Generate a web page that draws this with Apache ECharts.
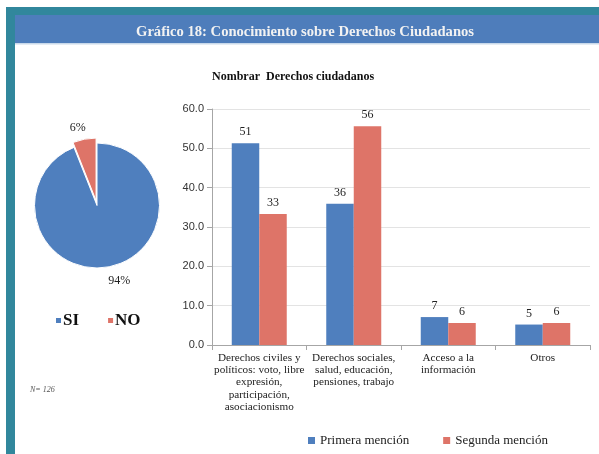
<!DOCTYPE html>
<html><head><meta charset="utf-8">
<script src="https://cdn.jsdelivr.net/npm/echarts@6/dist/echarts.min.js"></script>
<style>html,body{margin:0;padding:0;background:#fff}#c{width:599px;height:454px}</style>
</head><body><div id="c"></div>
<script>
const categories = [
  'Derechos civiles y\npolíticos: voto, libre\nexpresión,\nparticipación,\nasociacionismo',
  'Derechos sociales,\nsalud, educación,\npensiones, trabajo',
  'Acceso a la\ninformación',
  'Otros'
];
const primera = [51.3, 35.9, 7.1, 5.2];
const segunda = [33.3, 55.6, 5.6, 5.6];
const yTicks = [0, 10, 20, 30, 40, 50, 60];
const pieNames = ['SI', 'NO'];
const pieValues = [94, 6];

const BLUE = '#4F7FBE', RED = '#DE7468', TEAL = '#31879C';
const serif = '"Liberation Serif", "DejaVu Serif", serif';
const sans = '"Liberation Sans", Arial, sans-serif';

const chart = echarts.init(document.getElementById('c'), null, {renderer: 'canvas'});
chart.setOption({
  animation: false,
  backgroundColor: '#fff',
  graphic: [
    {type: 'rect', shape: {x: 6, y: 7, width: 593, height: 8}, style: {fill: TEAL}, silent: true},
    {type: 'rect', shape: {x: 6, y: 7, width: 9, height: 447}, style: {fill: TEAL}, silent: true},
    {type: 'rect', shape: {x: 15, y: 15, width: 584, height: 28}, style: {fill: '#4E7DBB'}, silent: true},
    {type: 'rect', shape: {x: 15, y: 43, width: 584, height: 1.5}, style: {fill: '#C9D9EA'}, silent: true},
    {type: 'text', left: 30, top: 386, style: {text: 'N= 126', font: 'italic 8px ' + serif, fill: '#555'}, silent: true}
  ],
  title: [
    {text: 'Gráfico 18: Conocimiento sobre Derechos Ciudadanos', left: 300, top: 20, textAlign: 'center',
     textStyle: {fontFamily: serif, fontWeight: 'bold', fontSize: 14.6, color: '#F2F2F2'}},
    {text: 'Nombrar  Derechos ciudadanos', left: 207, top: 66,
     textStyle: {fontFamily: serif, fontWeight: 'bold', fontSize: 12, color: '#111'}}
  ],
  legend: [
    {data: pieNames, left: 49, top: 307, itemWidth: 7, itemHeight: 7, itemGap: 27, icon: 'rect',
     textStyle: {fontFamily: serif, fontWeight: 'bold', fontSize: 17, color: '#111', padding: [0,0,0,-4]}},
    {data: ['Primera mención', 'Segunda mención'], left: 303, top: 429, itemWidth: 7, itemHeight: 7, itemGap: 34, icon: 'rect',
     textStyle: {fontFamily: serif, fontSize: 13, color: '#222'}}
  ],
  grid: {left: 212, right: 9, top: 109, bottom: 109},
  xAxis: {
    type: 'category', data: categories,
    axisLine: {lineStyle: {color: '#A6A6A6'}},
    axisTick: {show: true, length: 5, lineStyle: {color: '#A6A6A6'}},
    axisLabel: {fontFamily: serif, fontSize: 11.2, color: '#222', lineHeight: 12.2, margin: 7, interval: 0}
  },
  yAxis: {
    type: 'value', min: 0, max: 60, interval: 10,
    axisLine: {show: true, lineStyle: {color: '#A6A6A6'}},
    axisTick: {show: true, length: 5, lineStyle: {color: '#A6A6A6'}},
    splitLine: {lineStyle: {color: '#E3E3E3'}},
    axisLabel: {fontFamily: sans, fontSize: 11, color: '#333', margin: 8,
      formatter: v => yTicks.includes(v) ? v.toFixed(1) : ''}
  },
  series: [
    {name: 'Primera mención', type: 'bar', data: primera, barWidth: 27.5, barGap: '0%',
     itemStyle: {color: BLUE},
     label: {show: true, position: 'top', distance: 5, fontFamily: serif, fontSize: 12, color: '#222',
       formatter: p => Math.round(p.value)}},
    {name: 'Segunda mención', type: 'bar', data: segunda, barWidth: 27.5, barGap: '0%',
     itemStyle: {color: RED},
     label: {show: true, position: 'top', distance: 5, fontFamily: serif, fontSize: 12, color: '#222',
       formatter: p => Math.round(p.value)}},
    {type: 'pie', center: [97, 205.5], radius: [0, 62.5], startAngle: 90, clockwise: true,
     selectedMode: 'multiple', selectedOffset: 5,
     data: pieNames.map((n, i) => {
       const off = n === 'NO' ? [9, 2] : [-8, 0];
       return {name: n, value: pieValues[i], selected: n === 'NO',
         itemStyle: {color: n === 'NO' ? RED : BLUE},
         label: {offset: off},
         select: {label: {offset: off}}};
     }),
     itemStyle: {borderColor: '#fff', borderWidth: 1},
     label: {show: true, position: 'outside', formatter: p => p.value + '%', fontFamily: serif, fontSize: 12, color: '#222'},
     labelLine: {show: false, length: 14, length2: 0},
     emphasis: {disabled: true}}
  ]
});
</script></body></html>
